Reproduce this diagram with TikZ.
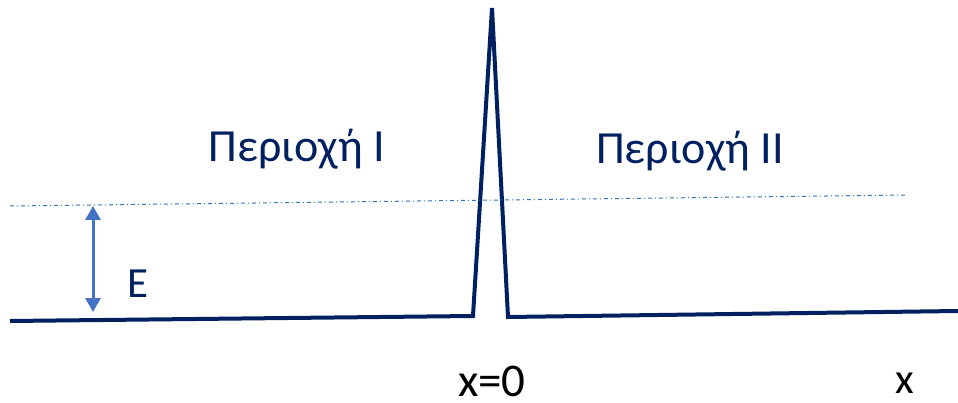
\documentclass[tikz,border=0pt]{standalone}
\usepackage{fontspec}
\setmainfont{Carlito}
\usetikzlibrary{arrows.meta}
\definecolor{navy}{HTML}{002060}
\definecolor{dashblue}{HTML}{2E75B6}
\definecolor{arrblue}{HTML}{4472C4}
\begin{document}
\begin{tikzpicture}[x=1pt,y=-1pt,
  curve/.style={draw=navy,line width=4pt,line join=miter},
  lbl/.style={text=navy,inner sep=0pt,anchor=base},
  axl/.style={text=black,inner sep=0pt,anchor=base},
  big/.style={font=\fontsize{46}{50}\selectfont},
  mid/.style={font=\fontsize{43}{48}\selectfont}]
\useasboundingbox (0,0) rectangle (958,403);
\coordinate (a) at (10,321);
\coordinate (b) at (473,316);
\coordinate (top) at (492,8);
\coordinate (c) at (508,317);
\coordinate (d) at (958,311);
\draw[curve] (a) -- (b) -- (top) -- (c) -- (d);
\coordinate (e1) at (10,206);
\coordinate (e2) at (908,195);
\draw[dashblue,line width=1pt,dash pattern=on 4pt off 3pt on 1pt off 3pt] (e1) -- (e2);
\coordinate (ar1) at (93,206);
\coordinate (ar2) at (93,312);
\draw[arrblue,line width=3pt,{Triangle[length=14pt,width=15pt]}-{Triangle[length=14pt,width=15pt]}] (ar1) -- (ar2);
\node[lbl,big] (r1) at (297,162) {Περιοχή I};
\node[lbl,big] (r2) at (690,164) {Περιοχή II};
\node[lbl,mid] (E) at (138,298) {E};
\node[axl,font=\fontsize{47}{52}\selectfont] (x0) at (492,396) {x=0};
\node[axl,mid] (x) at (905,393) {x};
\end{tikzpicture}
\end{document}
